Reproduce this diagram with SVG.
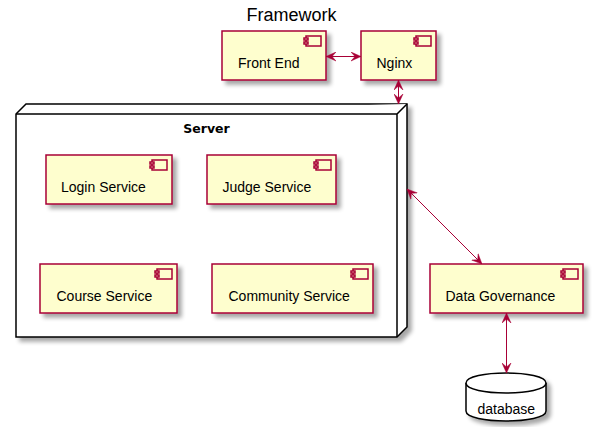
<svg xmlns="http://www.w3.org/2000/svg" width="595" height="427" viewBox="0 0 595 427">
<style>
.comp{fill:#FEFECE;stroke:#A80036;stroke-width:1.5;}
.icon{fill:#FEFECE;stroke:#A80036;stroke-width:1.5;}
.lbl{font-family:"Liberation Sans",Arial,sans-serif;font-size:14px;fill:#000;}
.title{font-family:"Liberation Sans",Arial,sans-serif;font-size:18px;fill:#000;}
.node{fill:#FFFFFF;stroke:#000;stroke-width:1.5;}
.conn{stroke:#A80036;stroke-width:1;fill:none;}
</style>
<defs>
<filter id="sh" x="-20%" y="-20%" width="150%" height="150%">
<feGaussianBlur in="SourceAlpha" stdDeviation="2" result="b"/>
<feOffset in="b" dx="4" dy="4" result="o"/>
<feComponentTransfer in="o" result="o2"><feFuncA type="linear" slope="0.35"/></feComponentTransfer>
<feMerge><feMergeNode in="o2"/><feMergeNode in="SourceGraphic"/></feMerge>
</filter>
<marker id="ah" markerUnits="userSpaceOnUse" markerWidth="10" markerHeight="10" viewBox="0 0 10 10" refX="10" refY="5" orient="auto-start-reverse">
<path d="M10,5 L0,0.5 L4,5 L0,9.5 Z" fill="#A80036" stroke="#A80036" stroke-width="0.5"/>
</marker>
<g id="cicon">
<rect x="-20" y="5" width="15" height="10" class="icon"/>
<rect x="-22" y="7" width="4" height="2" class="icon"/>
<rect x="-22" y="11" width="4" height="2" class="icon"/>
</g>
</defs>
<text class="title" x="291.5" y="21" text-anchor="middle">Framework</text>
<g id="server">
<path class="node" filter="url(#sh)" d="M16,114 L26,104 L407,104 L407,327 L397,337 L16,337 Z"/>
<path class="node" d="M16,114 L397,114 L407,104 M397,114 L397,337" fill="none"/>
<text x="206.5" y="133" text-anchor="middle" style="font-family:'DejaVu Sans',sans-serif;font-weight:bold;font-size:12.5px;">Server</text>
</g>
<g id="frontend">
<rect class="comp" filter="url(#sh)" x="222" y="31" width="104" height="49"/>
<use href="#cicon" x="326" y="31"/>
<text class="lbl" x="238" y="68">Front End</text>
</g>
<g id="nginx">
<rect class="comp" filter="url(#sh)" x="361" y="31" width="75" height="49"/>
<use href="#cicon" x="436" y="31"/>
<text class="lbl" x="376.5" y="68">Nginx</text>
</g>
<g id="login">
<rect class="comp" filter="url(#sh)" x="46" y="155" width="126" height="49"/>
<use href="#cicon" x="172" y="155"/>
<text class="lbl" x="61" y="192">Login Service</text>
</g>
<g id="judge">
<rect class="comp" filter="url(#sh)" x="207" y="155" width="129" height="49"/>
<use href="#cicon" x="336" y="155"/>
<text class="lbl" x="222.5" y="192">Judge Service</text>
</g>
<g id="course">
<rect class="comp" filter="url(#sh)" x="40" y="264" width="137" height="49"/>
<use href="#cicon" x="177" y="264"/>
<text class="lbl" x="56.5" y="301">Course Service</text>
</g>
<g id="community">
<rect class="comp" filter="url(#sh)" x="212" y="264" width="161" height="49"/>
<use href="#cicon" x="373" y="264"/>
<text class="lbl" x="228.5" y="301">Community Service</text>
</g>
<g id="datagov">
<rect class="comp" filter="url(#sh)" x="430" y="264" width="153" height="49"/>
<use href="#cicon" x="583" y="264"/>
<text class="lbl" x="445.5" y="301">Data Governance</text>
</g>
<g id="database">
<path class="node" filter="url(#sh)" d="M466,383 C466,369.7 546,369.7 546,383 L546,411 C546,424.3 466,424.3 466,411 Z"/>
<path class="node" fill="none" d="M466,383 C466,396.3 546,396.3 546,383"/>
<text class="lbl" x="477.5" y="414">database</text>
</g>
<g id="connectors">
<line class="conn" x1="326" y1="56.5" x2="361" y2="56.5" marker-start="url(#ah)" marker-end="url(#ah)"/>
<line class="conn" x1="398.5" y1="80" x2="398.5" y2="104" marker-start="url(#ah)" marker-end="url(#ah)"/>
<line class="conn" x1="407" y1="189" x2="482" y2="264" marker-start="url(#ah)" marker-end="url(#ah)"/>
<line class="conn" x1="506.5" y1="313" x2="506.5" y2="373" marker-start="url(#ah)" marker-end="url(#ah)"/>
</g>
</svg>
